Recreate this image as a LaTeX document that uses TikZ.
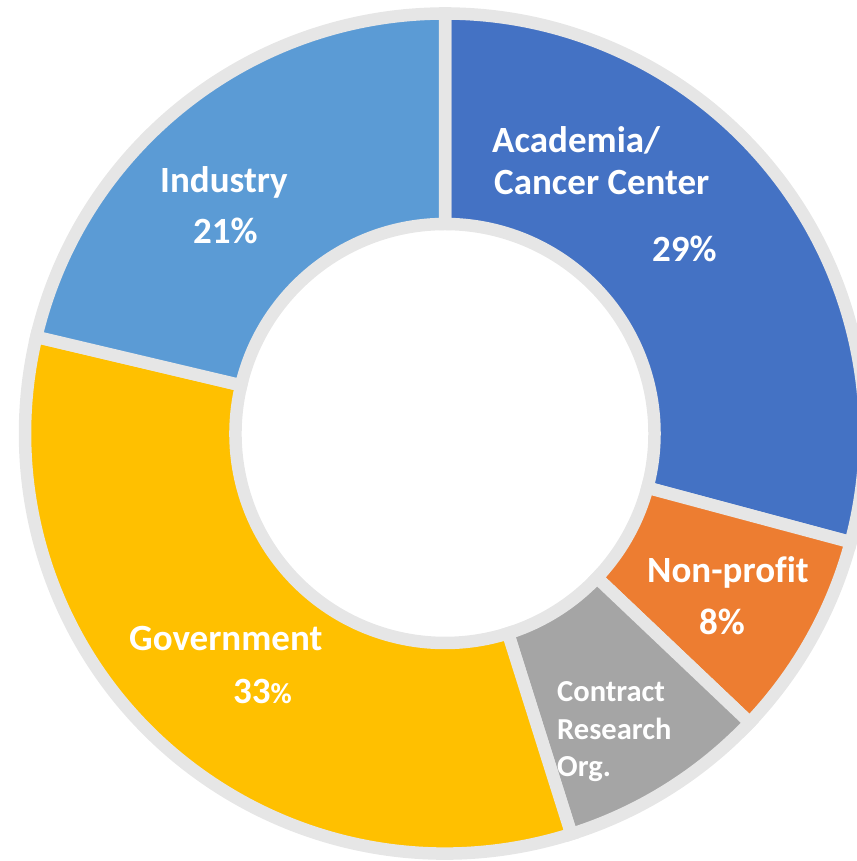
\documentclass[tikz,border=0pt]{standalone}
\usepackage{fontspec}
\setmainfont[Ligatures=NoCommon]{Carlito}
\usetikzlibrary{calc}
\definecolor{cAcad}{HTML}{4472C4}
\definecolor{cNon}{HTML}{ED7D31}
\definecolor{cCRO}{HTML}{A5A5A5}
\definecolor{cGov}{HTML}{FFC000}
\definecolor{cInd}{HTML}{5B9BD5}
\definecolor{cEdge}{HTML}{E6E6E6}
\begin{document}
\begin{tikzpicture}[x=1pt,y=1pt,
  seg/.style={draw=cEdge,line width=12.5pt,line join=miter},
  lab/.style={text=white,font=\bfseries\fontsize{37}{44}\selectfont,inner sep=0pt,anchor=base west},
  slab/.style={text=white,font=\bfseries\fontsize{30.5}{36}\selectfont,inner sep=0pt,anchor=base west}]
\useasboundingbox (0,0) rectangle (856,861);
\coordinate (c) at (445,427.5);
\def\ri{209.5}
\def\ro{420}
% segments
\foreach \a/\b/\col in {90/-15/cAcad, -15/-43.5/cNon, -43.5/-72.5/cCRO, -72.5/-193.3/cGov, -193.3/-270/cInd}{
  \filldraw[seg,fill=\col] ($(c)+(\a:\ro)$) arc[start angle=\a,end angle=\b,radius=\ro]
     -- ($(c)+(\b:\ri)$) arc[start angle=\b,end angle=\a,radius=\ri] -- cycle;
}
% labels
\node[lab] (acad1) at (492,708) {Academia/};
\node[lab] (acad2) at (494,666) {Cancer Center};
\node[lab] (acad3) at (652,599) {29\%};
\node[lab] (ind1) at (160,668) {Industry};
\node[lab] (ind2) at (193,617) {21\%};
\node[lab] (gov1) at (129,210) {Government};
\node[lab] (gov2) at (233,157) {33{\fontsize{29}{34}\selectfont\%}};
\node[lab] (non1) at (647,278) {Non-profit};
\node[lab] (non2) at (699,226) {8\%};
\node[slab] (cro1) at (557,159) {Contract};
\node[slab] (cro2) at (557,121) {Research};
\node[slab] (cro3) at (557,84) {Org.};
\end{tikzpicture}
\end{document}
